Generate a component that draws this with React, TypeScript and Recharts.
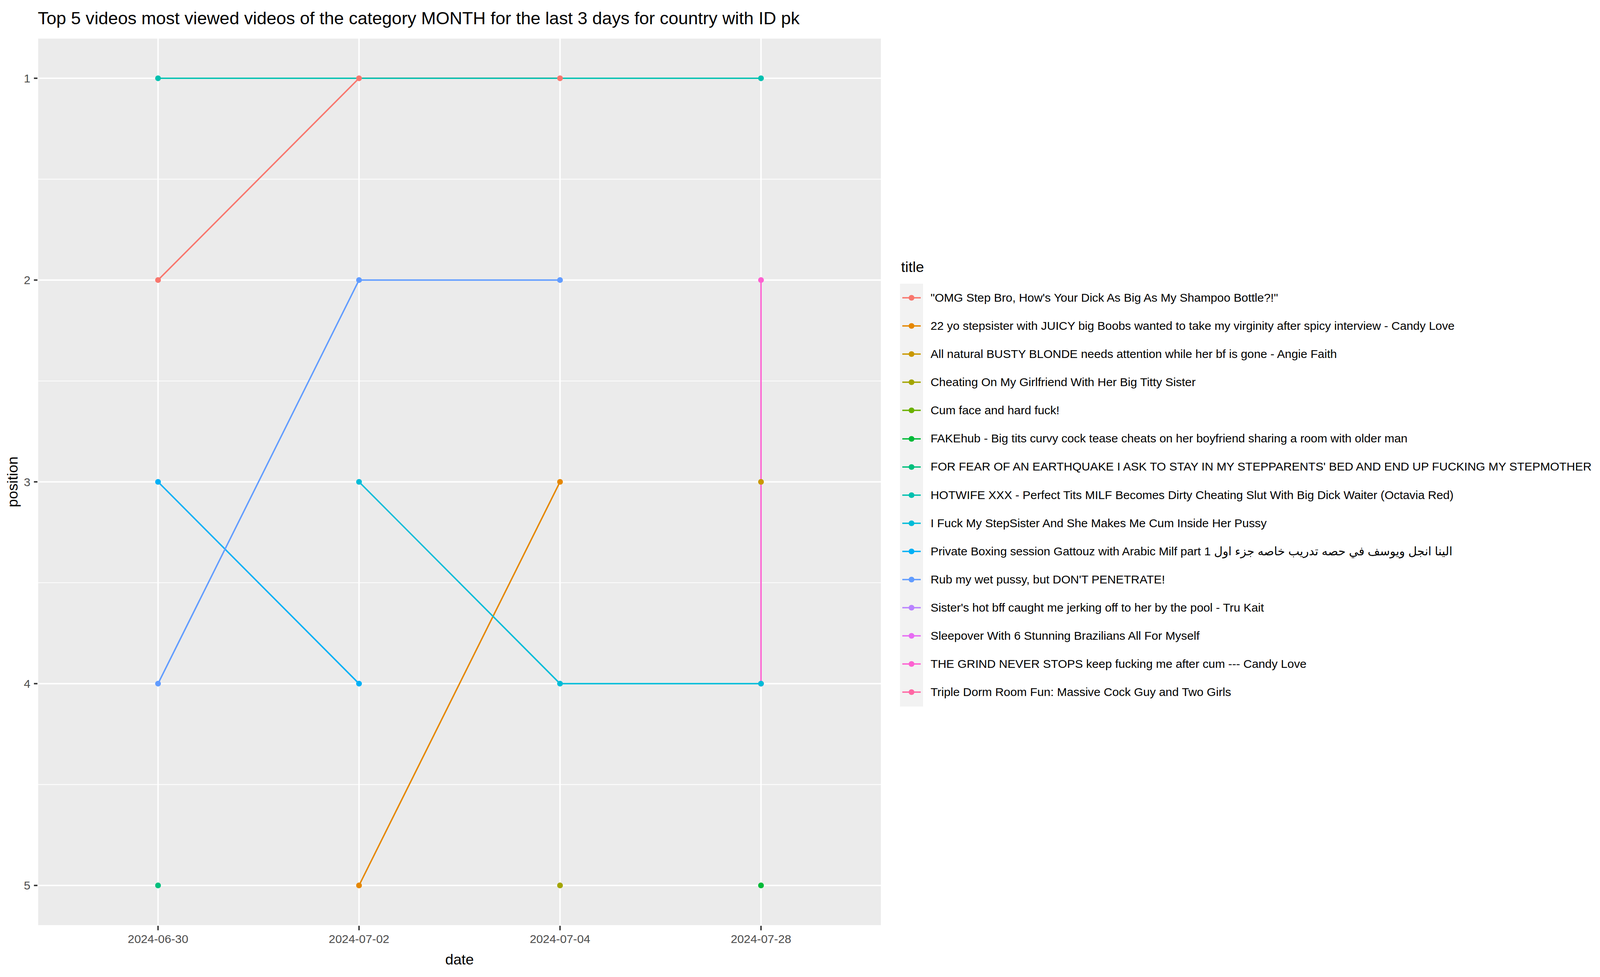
import { ScatterChart, Scatter, XAxis, YAxis, CartesianGrid, ReferenceLine, Label } from 'recharts';

const dates = ['2024-06-30', '2024-07-02', '2024-07-04', '2024-07-28'];
const positionTicks = [1, 2, 3, 4, 5];
const minorTicks = [1.5, 2.5, 3.5, 4.5];

const titles = [
  '"OMG Step Bro, How\'s Your Dick As Big As My Shampoo Bottle?!"',
  '22 yo stepsister with JUICY big Boobs wanted to take my virginity after spicy interview - Candy Love',
  'All natural BUSTY BLONDE needs attention while her bf is gone - Angie Faith',
  'Cheating On My Girlfriend With Her Big Titty Sister',
  'Cum face and hard fuck!',
  'FAKEhub - Big tits curvy cock tease cheats on her boyfriend sharing a room with older man',
  "FOR FEAR OF AN EARTHQUAKE I ASK TO STAY IN MY STEPPARENTS' BED AND END UP FUCKING MY STEPMOTHER",
  'HOTWIFE XXX - Perfect Tits MILF Becomes Dirty Cheating Slut With Big Dick Waiter (Octavia Red)',
  'I Fuck My StepSister And She Makes Me Cum Inside Her Pussy',
  'Private Boxing session Gattouz with Arabic Milf part 1 الينا انجل ويوسف في حصه تدريب خاصه جزء اول',
  "Rub my wet pussy, but DON'T PENETRATE!",
  "Sister's hot bff caught me jerking off to her by the pool - Tru Kait",
  'Sleepover With 6 Stunning Brazilians All For Myself',
  'THE GRIND NEVER STOPS keep fucking me after cum --- Candy Love',
  'Triple Dorm Room Fun: Massive Cock Guy and Two Girls',
];

const colors = [
  '#F8766D', '#E58700', '#C99800', '#A3A500', '#6BB100',
  '#00BA38', '#00BF7D', '#00C0AF', '#00BCD8', '#00B0F6',
  '#619CFF', '#B983FF', '#E76BF3', '#FD61D1', '#FF67A4',
];

// [date, position] per title
const omgStepBro = [['2024-06-30', 2], ['2024-07-02', 1], ['2024-07-04', 1]];
const juicyStepsister = [['2024-07-02', 5], ['2024-07-04', 3]];
const bustyBlonde = [['2024-07-28', 3]];
const cheatingGirlfriend = [['2024-07-04', 5]];
const cumFace: [string, number][] = [];
const fakeHub = [['2024-07-28', 5]];
const earthquake = [['2024-06-30', 5]];
const hotwife = [['2024-06-30', 1], ['2024-07-28', 1]];
const stepSister = [['2024-07-02', 3], ['2024-07-04', 4], ['2024-07-28', 4]];
const privateBoxing = [['2024-06-30', 3], ['2024-07-02', 4]];
const rubWet = [['2024-06-30', 4], ['2024-07-02', 2], ['2024-07-04', 2]];
const sistersBff: [string, number][] = [];
const sleepover: [string, number][] = [];
const grindNeverStops = [['2024-07-28', 2], ['2024-07-28', 4]];
const tripleDorm: [string, number][] = [];

const observations = [
  omgStepBro, juicyStepsister, bustyBlonde, cheatingGirlfriend, cumFace,
  fakeHub, earthquake, hotwife, stepSister, privateBoxing,
  rubWet, sistersBff, sleepover, grindNeverStops, tripleDorm,
];

const FONT = "'Liberation Sans', Arial, 'DejaVu Sans', sans-serif";

// layout is measured on the 5000x2500 reference and stretched to the real viewport
document.body.style.margin = '0';
document.documentElement.style.overflow = 'hidden';
const VW = document.documentElement.clientWidth || window.innerWidth || 5000;
const VH = window.innerHeight || 2500;
const sx = VW / 5000;
const sy = VH / 2500;
const X = (v: number) => v * sx;
const Y = (v: number) => v * sy;
const F = X;

const series = titles.map((title, i) => ({
  title,
  color: colors[i],
  data: (observations[i] as [string, number][]).map(([d, p]) => ({ x: dates.indexOf(d), y: p })),
}));

const NoShape = () => <g />;

function Legend() {
  return (
    <div style={{ position: 'absolute', left: 0, top: 0, fontFamily: FONT }}>
      <div style={{ position: 'absolute', left: X(2816), top: Y(697) - 0.846 * F(46), fontSize: F(46), lineHeight: `${F(46)}px` }}>
        title
      </div>
      <div style={{ position: 'absolute', left: X(2813), top: Y(726), width: X(72), height: Y(72.1 * titles.length), background: '#F2F2F2' }} />
      {series.map((s, i) => (
        <div key={s.title} style={{ position: 'absolute', left: X(2813), top: Y(726 + i * 72.1), height: Y(72.1), display: 'flex', alignItems: 'center' }}>
          <svg width={X(72)} height={Y(72.1)} style={{ display: 'block' }}>
            <line x1={X(7.2)} x2={X(64.8)} y1={Y(36)} y2={Y(36)} stroke={s.color} strokeWidth={X(4.5)} />
            <circle cx={X(36)} cy={Y(36)} r={X(9)} fill={s.color} />
          </svg>
          <span style={{ marginLeft: X(23), fontSize: F(37), lineHeight: `${F(37)}px`, whiteSpace: 'nowrap', color: '#000' }}>{s.title}</span>
        </div>
      ))}
    </div>
  );
}

export default function App() {
  return (
    <div style={{ position: 'absolute', left: 0, top: 0, width: VW, height: VH, background: '#FFFFFF', overflow: 'hidden' }}>
      <div
        style={{
          position: 'absolute',
          left: X(118),
          top: Y(62) - 0.847 * F(55),
          fontSize: F(55),
          lineHeight: `${F(55)}px`,
          fontFamily: FONT,
          color: '#000',
          whiteSpace: 'nowrap',
        }}
      >
        Top 5 videos most viewed videos of the category MONTH for the last 3 days for country with ID pk
      </div>
      <ScatterChart width={VW} height={VH} margin={{ top: Y(97), right: X(2245), bottom: 0, left: 0 }} style={{ fontFamily: FONT }}>
        <CartesianGrid fill="#EBEBEB" stroke="#FFFFFF" strokeWidth={X(4.5)} />
        {minorTicks.map((t) => (
          <ReferenceLine key={t} y={t} stroke="#FFFFFF" strokeWidth={X(2.3)} />
        ))}
        <XAxis
          type="number"
          dataKey="x"
          domain={[-0.6, 3.6]}
          ticks={[0, 1, 2, 3]}
          interval={0}
          tickFormatter={(v: number) => dates[v]}
          height={Y(131)}
          axisLine={false}
          tickSize={Y(11.5)}
          tickMargin={Y(11)}
          tickLine={{ stroke: '#333333', strokeWidth: X(4.5) }}
          tick={{ fontSize: F(37), fill: '#4D4D4D', fontFamily: FONT }}
        >
          <Label value="date" position="insideBottom" offset={Y(32)} style={{ fontSize: F(46), fill: '#000', fontFamily: FONT }} />
        </XAxis>
        <YAxis
          type="number"
          dataKey="y"
          domain={[0.8, 5.2]}
          reversed
          ticks={positionTicks}
          interval={0}
          width={X(117)}
          axisLine={false}
          tickSize={X(11)}
          tickMargin={X(11)}
          tickLine={{ stroke: '#333333', strokeWidth: X(4.5) }}
          tick={{ fontSize: F(37), fill: '#4D4D4D', fontFamily: FONT }}
        >
          <Label
            value="position"
            angle={-90}
            position="insideLeft"
            offset={X(38)}
            style={{ fontSize: F(46), fill: '#000', fontFamily: FONT, textAnchor: 'middle' }}
          />
        </YAxis>
        {/* lines first, in factor order */}
        {series.map((s) => (
          <Scatter
            key={'l' + s.title}
            data={s.data}
            line={{ stroke: s.color, strokeWidth: X(4.5) }}
            lineType="joint"
            shape={NoShape}
            isAnimationActive={false}
          />
        ))}
        {/* points on top; later levels sit underneath, as in the original row order */}
        {[...series].reverse().map((s) => (
          <Scatter
            key={'p' + s.title}
            data={s.data}
            fill={s.color}
            shape={(p: any) => <circle cx={p.cx} cy={p.cy} r={X(9)} fill={s.color} />}
            isAnimationActive={false}
          />
        ))}
      </ScatterChart>
      <Legend />
    </div>
  );
}
